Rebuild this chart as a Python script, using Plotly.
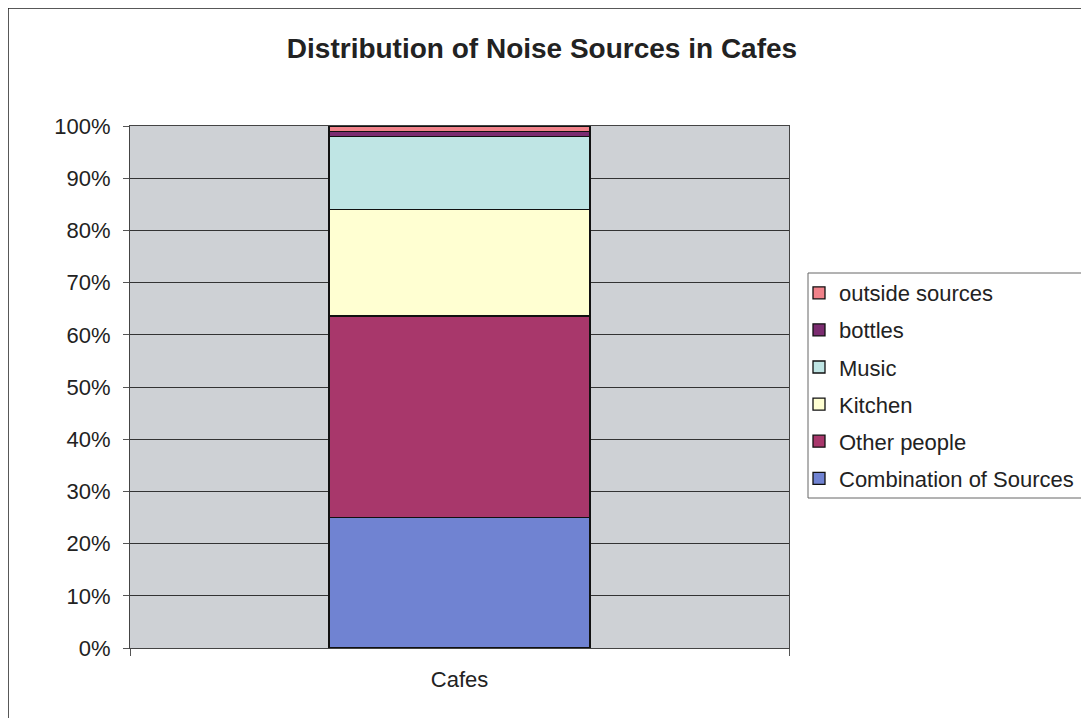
import plotly.graph_objects as go

categories = ["Cafes"]
series_names = ["Combination of Sources", "Other people", "Kitchen", "Music", "bottles", "outside sources"]
series_values = {
    "Combination of Sources": [25.0],
    "Other people": [38.6],
    "Kitchen": [20.4],
    "Music": [14.0],
    "bottles": [1.0],
    "outside sources": [1.0],
}
colors = {
    "Combination of Sources": "#7083D2",
    "Other people": "#A8376B",
    "Kitchen": "#FFFFD2",
    "Music": "#BFE5E4",
    "bottles": "#7B2C70",
    "outside sources": "#F0828A",
}
y_ticks = list(range(0, 101, 10))
y_tick_labels = [f"{v}%" for v in y_ticks]

FONT = "Liberation Sans, Arial, sans-serif"
W, H = 1081, 710  # page body has an 8px margin
L, T, PW, PH = 122, 118, 659, 522


def px(xp):
    return (xp - 8 - L) / PW


def py(yp):
    return (T + PH - (yp - 8)) / PH


fig = go.Figure()
for i, name in enumerate(series_names):
    fig.add_trace(go.Bar(
        x=categories, y=series_values[name], name=name,
        marker=dict(color=colors[name], line=dict(color="#111111", width=1.3)),
        width=0.396, legendgroup=name, legendrank=1000 - 10 * i,
    ))

fig.update_layout(
    barmode="stack",
    width=W, height=H,
    margin=dict(l=L, r=W - L - PW, t=T, b=H - T - PH, autoexpand=False),
    paper_bgcolor="white",
    plot_bgcolor="#CED1D5",
    font=dict(family=FONT, size=22, color="#222222"),
    title=dict(text="<b>Distribution of Noise Sources in Cafes</b>",
               x=(542 - 8) / W, xanchor="center", y=1 - 40 / H, yanchor="middle",
               font=dict(family=FONT, size=28, color="#222222")),
    showlegend=True,
    legend=dict(x=px(799), xanchor="left", y=py(272), yanchor="top",
                traceorder="grouped", tracegroupgap=5.5,
                borderwidth=0, bgcolor="rgba(0,0,0,0)",
                font=dict(family=FONT, size=22, color="#222222"),
                itemwidth=30),
    xaxis=dict(showgrid=False, ticks="outside", tickson="boundaries", ticklen=7,
               tickcolor="#555555", showline=True, linecolor="#444444", mirror=True,
               tickfont=dict(size=22), ticklabelstandoff=12),
    yaxis=dict(range=[0, 100], tickvals=y_ticks, ticktext=y_tick_labels,
               showgrid=True, gridcolor="#333333", gridwidth=1,
               ticks="outside", ticklen=6, tickcolor="#555555",
               showline=True, linecolor="#444444", mirror=True,
               tickfont=dict(size=22), zeroline=False, ticklabelstandoff=8),
    shapes=[
        dict(type="rect", xref="paper", yref="paper",
             x0=px(8), x1=1.6, y0=-0.3, y1=py(8),
             line=dict(color="#222222", width=1.5), fillcolor="rgba(0,0,0,0)",
             layer="below"),
        dict(type="rect", xref="paper", yref="paper",
             x0=px(808), x1=1.6, y0=py(498), y1=py(273),
             line=dict(color="#666666", width=1), fillcolor="white",
             layer="below"),
    ],
)

fig.write_html("out.html")
